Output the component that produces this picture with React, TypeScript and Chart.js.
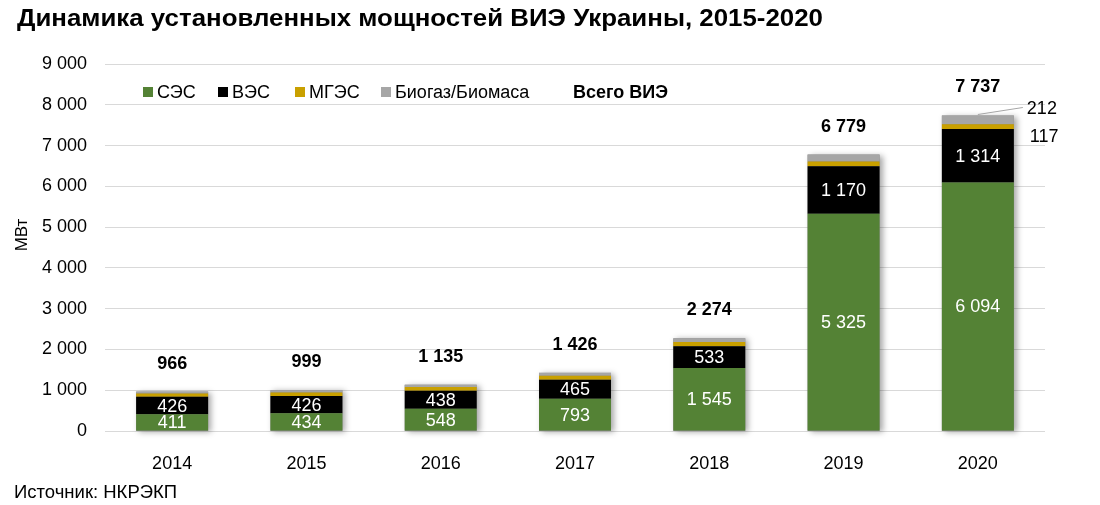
import React, { useEffect, useRef } from 'react';
import { Chart, registerables } from 'chart.js';

Chart.register(...registerables);

const years = ['2014', '2015', '2016', '2017', '2018', '2019', '2020'];
const sesValues = [411, 434, 548, 793, 1545, 5325, 6094];
const vesValues = [426, 426, 438, 465, 533, 1170, 1314];
const mgesValues = [80, 87, 92, 95, 102, 113, 117];
const bioValues = [49, 52, 57, 73, 94, 171, 212];
const totalValues = [966, 999, 1135, 1426, 2274, 6779, 7737];

const seriesNames = ['СЭС', 'ВЭС', 'МГЭС', 'Биогаз/Биомаса'];
const seriesColors = ['#548235', '#000000', '#C9A000', '#A6A6A6'];
const totalName = 'Всего ВИЭ';
const titleText = 'Динамика установленных мощностей ВИЭ Украины, 2015-2020';
const sourceText = 'Источник: НКРЭКП';
const yTitle = 'МВт';

const FONT = '"Liberation Sans", Arial, Helvetica, sans-serif';

const fmt = (v: number) => String(v).replace(/\B(?=(\d{3})+(?!\d))/g, ' ');

const App: React.FC = () => {
    const canvasRef = useRef<HTMLCanvasElement>(null);
    const chartRef = useRef<Chart | null>(null);

    useEffect(() => {
        document.body.style.margin = '0';
        if (!canvasRef.current) return;
        if (chartRef.current) chartRef.current.destroy();

        // shadow behind each whole stack
        const shadowPlugin = {
            id: 'stackShadow',
            beforeDatasetsDraw(chart: any) {
                const ctx = chart.ctx;
                const y = chart.scales.y;
                const meta = chart.getDatasetMeta(0);
                ctx.save();
                meta.data.forEach((el: any, i: number) => {
                    const top = y.getPixelForValue(totalValues[i]);
                    const bottom = y.getPixelForValue(0);
                    ctx.shadowColor = 'rgba(0,0,0,0.35)';
                    ctx.shadowBlur = 6;
                    ctx.shadowOffsetX = 3;
                    ctx.shadowOffsetY = 1;
                    ctx.fillStyle = '#888';
                    ctx.fillRect(el.x - el.width / 2, top, el.width, bottom - top);
                });
                ctx.restore();
            },
        };

        const textPlugin = {
            id: 'texts',
            afterDraw(chart: any) {
                const ctx = chart.ctx;
                const y = chart.scales.y;
                ctx.save();

                // title (stretched a little, as in the original picture)
                ctx.fillStyle = '#000';
                ctx.font = `bold 23px ${FONT}`;
                ctx.textAlign = 'left';
                ctx.textBaseline = 'middle';
                const tw = ctx.measureText(titleText).width;
                ctx.save();
                ctx.translate(17, 20);
                ctx.scale(806 / tw, 1);
                ctx.fillText(titleText, 0, 0);
                ctx.restore();

                // source
                ctx.font = `18.5px ${FONT}`;
                ctx.fillText(sourceText, 14, 493);

                // y axis title
                ctx.save();
                ctx.translate(22, 235);
                ctx.rotate(-Math.PI / 2);
                ctx.textAlign = 'center';
                ctx.font = `17px ${FONT}`;
                ctx.fillText(yTitle, 0, 0);
                ctx.restore();

                // legend
                const boxX = [143, 218, 295, 381];
                const ly = 92;
                ctx.font = `18px ${FONT}`;
                ctx.textAlign = 'left';
                seriesNames.forEach((name, i) => {
                    ctx.fillStyle = seriesColors[i];
                    ctx.fillRect(boxX[i], ly - 5, 10, 10);
                    ctx.fillStyle = '#000';
                    ctx.fillText(name, boxX[i] + 14, ly + 1);
                });
                ctx.font = `bold 18px ${FONT}`;
                ctx.fillText(totalName, 573, ly + 1);

                // values inside bars
                ctx.textAlign = 'center';
                ctx.font = `18px ${FONT}`;
                ctx.fillStyle = '#fff';
                [0, 1].forEach((d) => {
                    chart.getDatasetMeta(d).data.forEach((el: any, i: number) => {
                        const v = chart.data.datasets[d].data[i];
                        ctx.fillText(fmt(v), el.x, (el.y + el.base) / 2 + 1);
                    });
                });

                // totals
                ctx.font = `bold 18px ${FONT}`;
                ctx.fillStyle = '#000';
                chart.getDatasetMeta(0).data.forEach((el: any, i: number) => {
                    const top = y.getPixelForValue(totalValues[i]);
                    ctx.fillText(fmt(totalValues[i]), el.x, top - 28);
                });

                // callouts for the last bar
                const last = years.length - 1;
                const el = chart.getDatasetMeta(3).data[last];
                const top = y.getPixelForValue(totalValues[last]);
                ctx.strokeStyle = '#A6A6A6';
                ctx.lineWidth = 1;
                ctx.beginPath();
                ctx.moveTo(el.x, top - 1);
                ctx.lineTo(el.x + 45, top - 8);
                ctx.stroke();
                ctx.font = `18px ${FONT}`;
                ctx.textAlign = 'left';
                ctx.fillText(fmt(bioValues[last]), el.x + 49, top - 6);
                ctx.fillText(fmt(mgesValues[last]), el.x + 52, top + 22);
                ctx.restore();
            },
        };

        const series = [sesValues, vesValues, mgesValues, bioValues];

        chartRef.current = new Chart(canvasRef.current, {
            type: 'bar',
            data: {
                labels: years,
                datasets: series.map((vals, i) => ({
                    label: seriesNames[i],
                    data: vals,
                    backgroundColor: seriesColors[i],
                    borderWidth: 0,
                    barPercentage: 0.536,
                    categoryPercentage: 1,
                })),
            },
            options: {
                responsive: true,
                maintainAspectRatio: false,
                animation: false,
                layout: { padding: { left: 0, right: 55, top: 64, bottom: 0 } },
                plugins: {
                    legend: { display: false },
                    title: { display: false },
                    tooltip: { enabled: false },
                },
                scales: {
                    x: {
                        stacked: true,
                        grid: { display: false },
                        border: { display: false },
                        ticks: { color: '#000', padding: 14, font: { family: FONT, size: 18 } },
                        afterFit: (s: any) => { s.height = 74; },
                    },
                    y: {
                        stacked: true,
                        min: 0,
                        max: 9000,
                        grid: { color: '#D9D9D9', drawTicks: false },
                        border: { display: false },
                        ticks: {
                            stepSize: 1000,
                            color: '#000',
                            padding: 18,
                            font: { family: FONT, size: 18 },
                            callback: (v: any) => fmt(Number(v)),
                        },
                        afterFit: (s: any) => { s.width = 105; },
                    },
                },
            },
            plugins: [shadowPlugin, textPlugin],
        });

        return () => {
            if (chartRef.current) {
                chartRef.current.destroy();
                chartRef.current = null;
            }
        };
    }, []);

    return (
        <div style={{ position: 'absolute', left: 0, top: 0, width: 1100, height: 505 }}>
            <canvas ref={canvasRef}></canvas>
        </div>
    );
};

export default App;
